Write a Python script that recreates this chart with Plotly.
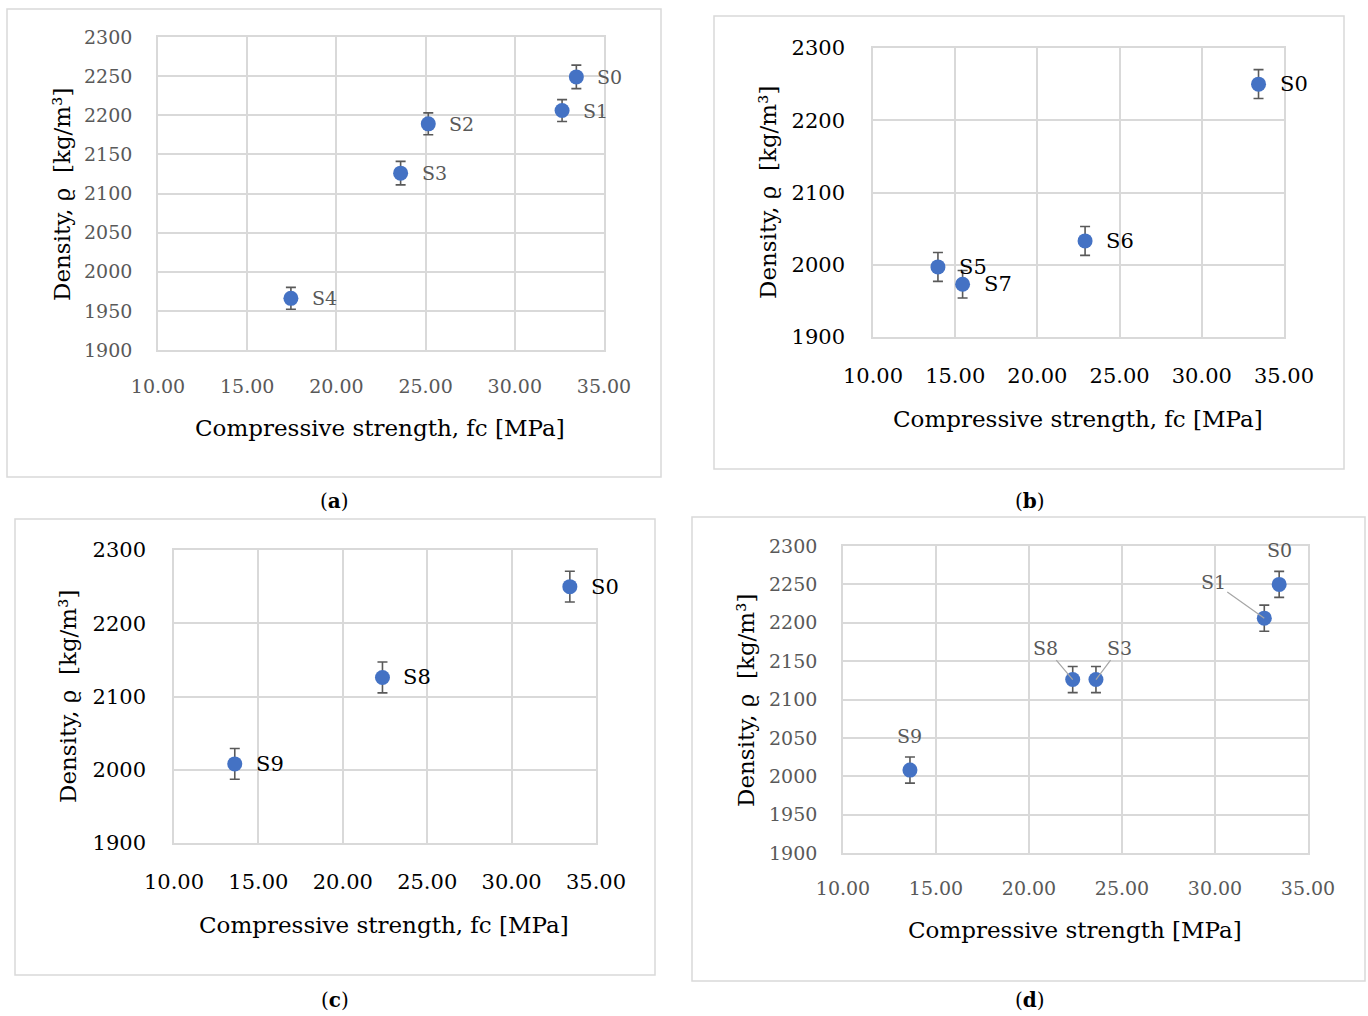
import plotly.graph_objects as go

W, H = 1368, 1016

# ---------------- data ----------------
a_labels = ["S0", "S1", "S2", "S3", "S4"]
a_fc = [33.45, 32.65, 25.15, 23.6, 17.45]
a_rho = [2249, 2206, 2189, 2126, 1966]
a_err = [15, 14, 14, 15, 14]

b_labels = ["S0", "S5", "S6", "S7"]
b_fc = [33.45, 13.95, 22.9, 15.45]
b_rho = [2250, 1997, 2033, 1973]
b_err = [20, 20, 20, 19]

c_labels = ["S0", "S8", "S9"]
c_fc = [33.45, 22.35, 13.6]
c_rho = [2250, 2126, 2008]
c_err = [21, 21, 21]

d_labels = ["S0", "S1", "S8", "S3", "S9"]
d_fc = [33.45, 32.65, 22.35, 23.6, 13.6]
d_rho = [2250, 2206, 2126, 2126, 2008]
d_err = [17, 17, 17, 17, 17]

x_ticks = [10, 15, 20, 25, 30, 35]
x_ticktext = ["10.00", "15.00", "20.00", "25.00", "30.00", "35.00"]
y_ticks_fine = [1900, 1950, 2000, 2050, 2100, 2150, 2200, 2250, 2300]
y_ticks_coarse = [1900, 2000, 2100, 2200, 2300]

FONT = "DejaVu Serif"
BLUE = "#4472C4"
GRID = "#d9d9d9"
GRAYTXT = "#595959"


def px(x):
    return x / W


def py(y):
    return 1 - y / H


fig = go.Figure()

panels = [
    dict(n="", labels=a_labels, fc=a_fc, rho=a_rho, err=a_err, box=(158, 604, 37, 350),
         outer=(7, 661, 9, 477), yt=y_ticks_fine, tfs=19, tcol=GRAYTXT, lfs=19, lcol=GRAYTXT,
         xso=18, yso=20,
         xt="Compressive strength, fc [MPa]", xtpos=(380, 428), ytpos=(62, 195), tfsz=23, cap="a", cappos=(334, 501)),
    dict(n="2", labels=b_labels, fc=b_fc, rho=b_rho, err=b_err, box=(873, 1284, 48, 337),
         outer=(714, 1344, 16, 469), yt=y_ticks_coarse, tfs=21, tcol="#000000", lfs=21, lcol="#000000",
         xso=19, yso=22,
         xt="Compressive strength, fc [MPa]", xtpos=(1078, 419), ytpos=(768, 193), tfsz=23, cap="b", cappos=(1030, 501)),
    dict(n="3", labels=c_labels, fc=c_fc, rho=c_rho, err=c_err, box=(174, 596, 550, 843),
         outer=(15, 655, 519, 975), yt=y_ticks_coarse, tfs=21, tcol="#000000", lfs=21, lcol="#000000",
         xso=19, yso=22,
         xt="Compressive strength, fc [MPa]", xtpos=(384, 925), ytpos=(68, 697), tfsz=23, cap="c", cappos=(335, 1000)),
    dict(n="4", labels=d_labels, fc=d_fc, rho=d_rho, err=d_err, box=(843, 1308, 546, 853),
         outer=(692, 1365, 517, 981), yt=y_ticks_fine, tfs=19, tcol=GRAYTXT, lfs=19, lcol=GRAYTXT,
         xso=17, yso=20,
         xt="Compressive strength [MPa]", xtpos=(1075, 930), ytpos=(746, 700), tfsz=23, cap="d", cappos=(1030, 1000)),
]

annotations = []
shapes = []

for p in panels:
    n = p["n"]
    xa = "x" + n
    ya = "y" + n
    l, r, t, b = p["box"]
    fig.add_trace(go.Scatter(
        x=p["fc"], y=p["rho"], mode="markers",
        marker=dict(color=BLUE, size=15),
        error_y=dict(type="data", array=p["err"], visible=True, color="#595959", thickness=1.6, width=5),
        xaxis=xa, yaxis=ya, showlegend=False, hoverinfo="x+y",
    ))
    common = dict(showgrid=True, gridcolor=GRID, gridwidth=1.6, zeroline=False,
                  showline=True, linecolor=GRID, linewidth=1.6, mirror=True,
                  ticks="", automargin=False,
                  tickfont=dict(family=FONT, size=p["tfs"], color=p["tcol"]))
    fig.update_layout(**{
        "xaxis" + n: dict(domain=[px(l), px(r)], range=[10, 35], tickvals=x_ticks, ticktext=x_ticktext,
                          anchor=ya, ticklabelstandoff=p["xso"], **common),
        "yaxis" + n: dict(domain=[py(b), py(t)], range=[1900, 2300], tickvals=p["yt"],
                          anchor=xa, ticklabelstandoff=p["yso"], **common),
    })
    annotations.append(dict(text=p["xt"], x=px(p["xtpos"][0]), y=py(p["xtpos"][1]), xref="paper", yref="paper",
                            showarrow=False, xanchor="center", yanchor="middle",
                            font=dict(family=FONT, size=p["tfsz"], color="#000000")))
    annotations.append(dict(text="Density, ϱ  [kg/m³]", x=px(p["ytpos"][0]), y=py(p["ytpos"][1]),
                            xref="paper", yref="paper", showarrow=False, textangle=-90,
                            xanchor="center", yanchor="middle",
                            font=dict(family=FONT, size=p["tfsz"], color="#000000")))
    annotations.append(dict(text="(<b>" + p["cap"] + "</b>)", x=px(p["cappos"][0]), y=py(p["cappos"][1]),
                            xref="paper", yref="paper", showarrow=False, xanchor="center", yanchor="middle",
                            font=dict(family=FONT, size=20, color="#000000")))
    ol, orr, ot, ob = p["outer"]
    shapes.append(dict(type="rect", xref="paper", yref="paper", x0=px(ol), x1=px(orr), y0=py(ob), y1=py(ot),
                       line=dict(color=GRID, width=1.5), fillcolor="rgba(0,0,0,0)", layer="below"))

    if n != "4":
        for lab, xv, yv in zip(p["labels"], p["fc"], p["rho"]):
            annotations.append(dict(text=lab, x=xv, y=yv, xref=xa, yref=ya, showarrow=False,
                                    xanchor="left", yanchor="middle", xshift=19,
                                    font=dict(family=FONT, size=p["lfs"], color=p["lcol"])))
    else:
        offsets = {"S0": None, "S9": None, "S1": (-51, -36), "S8": (-27, -32), "S3": (24, -32)}
        for lab, xv, yv in zip(p["labels"], p["fc"], p["rho"]):
            off = offsets[lab]
            if off is None:
                annotations.append(dict(text=lab, x=xv, y=yv, xref=xa, yref=ya, showarrow=False,
                                        xanchor="center", yanchor="middle", yshift=34,
                                        font=dict(family=FONT, size=p["lfs"], color=p["lcol"])))
            else:
                annotations.append(dict(text=lab, x=xv, y=yv, xref=xa, yref=ya, showarrow=True,
                                        ax=off[0], ay=off[1], arrowhead=0, arrowwidth=1.2,
                                        arrowcolor="#a6a6a6", standoff=0,
                                        font=dict(family=FONT, size=p["lfs"], color=p["lcol"])))

fig.update_layout(
    width=W, height=H, margin=dict(l=0, r=0, t=0, b=0),
    paper_bgcolor="white", plot_bgcolor="white",
    annotations=annotations, shapes=shapes,
    font=dict(family=FONT),
)

fig.write_html("out.html")
